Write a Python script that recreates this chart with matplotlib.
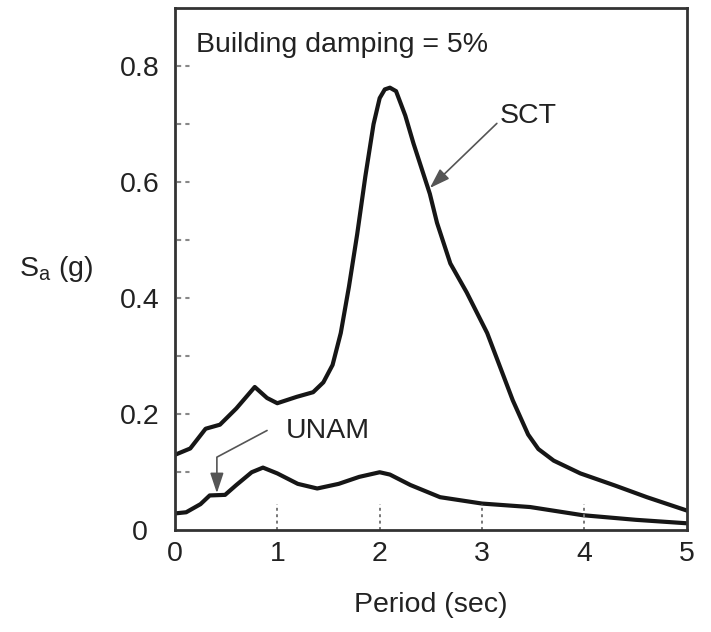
import numpy as np
import matplotlib
matplotlib.use("Agg")
from matplotlib import pyplot as plt

# Response spectra, 1985 Mexico City earthquake
period_sct = [0.0, 0.15, 0.30, 0.44, 0.60, 0.78, 0.90, 1.00, 1.19, 1.35, 1.45,
              1.54, 1.62, 1.70, 1.78, 1.86, 1.94, 2.00, 2.05, 2.10, 2.16, 2.25, 2.33,
              2.49, 2.56, 2.69, 2.85, 3.05, 3.30, 3.45, 3.55, 3.70, 3.96, 4.30, 4.61, 5.0]
sa_sct = [0.130, 0.141, 0.175, 0.182, 0.210, 0.247, 0.228, 0.219, 0.230, 0.238, 0.255,
          0.285, 0.340, 0.420, 0.510, 0.610, 0.700, 0.745, 0.760, 0.763, 0.757, 0.715, 0.667,
          0.580, 0.530, 0.460, 0.410, 0.340, 0.224, 0.165, 0.140, 0.120, 0.098, 0.077, 0.057, 0.034]

period_unam = [0.0, 0.11, 0.25, 0.34, 0.49, 0.60, 0.75, 0.86, 1.00, 1.20, 1.39,
               1.60, 1.80, 2.00, 2.10, 2.30, 2.59, 3.00, 3.47, 3.98, 4.50, 5.0]
sa_unam = [0.029, 0.031, 0.045, 0.060, 0.061, 0.078, 0.100, 0.108, 0.098, 0.080, 0.072,
           0.080, 0.092, 0.100, 0.096, 0.078, 0.057, 0.046, 0.040, 0.026, 0.018, 0.012]

x_ticks = [0, 1, 2, 3, 4, 5]
y_ticks = [0, 0.2, 0.4, 0.6, 0.8]
y_ticklabels = ["0", "0.2", "0.4", "0.6", "0.8"]
y_minor = [0.1, 0.2, 0.3, 0.4, 0.5, 0.6, 0.7, 0.8]

plt.rcParams['font.family'] = ['Liberation Sans', 'DejaVu Sans']
plt.rcParams['font.size'] = 20.5

fig = plt.figure(figsize=(7.11, 6.32), dpi=100)
ax = fig.add_axes([0.246, 0.161, 0.72, 0.826])

ax.plot(period_sct, sa_sct, color='#161616', lw=3.0, solid_joinstyle='round')
ax.plot(period_unam, sa_unam, color='#161616', lw=3.0, solid_joinstyle='round')

ax.set_xlim(0, 5)
ax.set_ylim(0, 0.9)
ax.set_xticks(x_ticks)
ax.set_yticks(y_ticks)
ax.set_yticklabels(y_ticklabels, ha='center')
ax.tick_params(length=0, colors='#222222')
ax.tick_params(axis='x', pad=8)
ax.tick_params(axis='y', pad=25)

# dotted inward tick marks
for t in x_ticks[1:-1]:
    ax.plot([t, t], [0, 0.05], transform=ax.get_xaxis_transform(),
            color='#777777', lw=1.4, ls=(0, (1.5, 1.8)))
for t in y_minor:
    ax.plot([0.004, 0.03], [t, t], transform=ax.get_yaxis_transform(),
            color='#888888', lw=1.5, ls=(0, (2, 2)))

for s in ax.spines.values():
    s.set_linewidth(2.0)
    s.set_color('#333333')

ax.set_xlabel("Period (sec)", labelpad=18, color='#222222')
ax.set_ylabel(r"S$_\mathregular{a}$ (g)", rotation=0, ha='center', va='center',
              color='#222222')
ax.yaxis.set_label_coords(-0.232, 0.5)

ax.text(0.21, 0.836, "Building damping = 5%", va='center', ha='left', color='#222222')

arrow_kw = dict(arrowstyle='-|>,head_length=0.6,head_width=0.2', color='#555555',
                lw=1.2, shrinkA=0, shrinkB=0)
ax.annotate("SCT", xy=(2.49, 0.59), xytext=(3.45, 0.715), ha='center', va='center',
            color='#222222', arrowprops=dict(arrow_kw, relpos=(0.0, 0.3)))
ax.text(1.49, 0.171, "UNAM", ha='center', va='center', color='#222222')
ax.annotate("", xy=(0.41, 0.064), xytext=(0.90, 0.172),
            arrowprops=dict(arrow_kw, connectionstyle='angle,angleA=28,angleB=90,rad=0'))

plt.savefig("out.png", dpi=100)
